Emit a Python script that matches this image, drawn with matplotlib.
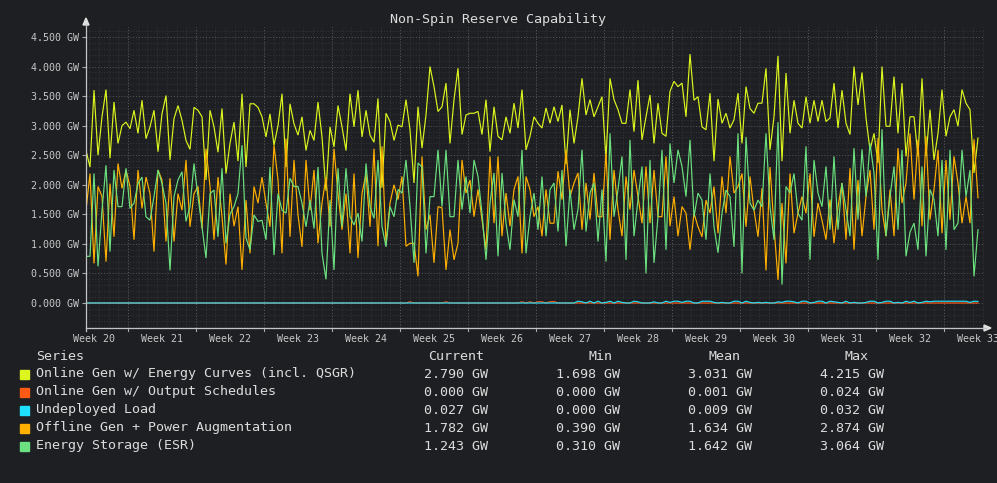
import numpy as np
import matplotlib
matplotlib.use("Agg")
import matplotlib.pyplot as plt
from matplotlib.patches import Rectangle

# ---------------- data (GW), one sample every 1/17 week ----------------
start_week = 19.882
samples_per_week = 17

energy_curves = [
    2.58, 2.30, 3.60, 2.50, 3.15, 3.61, 2.45, 3.40, 2.70, 3.00, 3.06, 2.95, 3.26, 2.87, 3.43, 2.78, 2.98, 3.26,
    2.56, 3.20, 3.51, 2.42, 3.12, 3.34, 3.09, 2.75, 2.60, 3.31, 3.26, 3.15, 2.08, 3.26, 2.98, 2.55, 3.29, 2.19,
    2.70, 3.06, 2.40, 3.54, 2.30, 3.37, 3.37, 3.31, 3.15, 2.81, 3.20, 2.67, 3.00, 3.54, 2.30, 3.37, 3.03, 2.84,
    3.15, 2.58, 2.92, 2.75, 3.40, 2.81, 1.90, 2.98, 2.64, 3.34, 2.98, 2.58, 3.54, 2.98, 3.60, 2.81, 3.26, 2.84, 2.72,
    3.46, 1.95, 3.21, 3.07, 2.75, 3.01, 2.98, 3.44, 2.93, 2.03, 3.32, 2.62, 3.18, 4.00, 3.66, 3.24, 3.32, 3.72,
    2.70, 3.44, 3.97, 2.85, 3.18, 3.21, 3.21, 3.24, 2.85, 3.44, 2.56, 3.32, 2.82, 2.76, 3.15, 2.87, 3.38, 2.96, 3.61, 2.59,
    2.82, 3.15, 3.04, 2.96, 3.30, 3.04, 3.32, 3.07, 3.35, 2.35, 3.27, 2.70, 3.15, 3.80, 3.18, 3.44, 3.15, 3.32,
    3.49, 2.45, 3.80, 3.44, 3.27, 3.04, 3.04, 3.61, 2.90, 3.77, 2.76, 3.15, 3.52, 2.70, 3.38, 2.87, 2.82, 3.58, 3.75, 3.66,
    3.72, 3.15, 4.21, 3.43, 3.49, 2.98, 2.93, 3.55, 2.40, 3.45, 3.04, 3.21, 2.96, 3.10, 3.55, 2.70, 3.66, 3.29,
    3.21, 3.38, 3.38, 3.97, 2.59, 3.15, 4.18, 2.40, 3.89, 2.87, 3.43, 3.04, 2.96, 3.49, 3.04, 3.43, 3.07, 3.43, 3.07,
    3.13, 3.72, 2.96, 3.60, 3.04, 2.85, 4.00, 3.35, 3.90, 3.13, 2.59, 2.87, 2.37, 4.00, 2.99, 2.99, 3.83, 2.87,
    3.72, 2.48, 3.15, 3.15, 2.48, 3.80, 2.48, 3.27, 2.42, 2.87, 3.61, 2.82, 3.15, 3.27, 2.99, 3.61, 3.38, 3.27, 2.20, 2.79,
]

offline_gen = [
    1.57, 2.19, 0.67, 1.97, 1.80, 0.70, 2.02, 1.12, 2.36, 1.94, 2.25, 1.97, 1.07, 2.25, 1.60, 2.13, 1.85, 0.87,
    2.25, 2.08, 1.04, 2.11, 1.04, 1.85, 1.57, 2.42, 1.29, 1.85, 1.97, 1.26, 2.61, 1.97, 1.07, 2.13, 1.46, 0.65,
    1.85, 1.30, 1.63, 0.56, 1.74, 0.84, 1.97, 1.69, 2.13, 1.69, 1.29, 2.67, 2.08, 0.84, 2.78, 1.12, 2.42, 1.49,
    0.95, 2.42, 1.57, 2.25, 1.01, 1.69, 2.13, 1.29, 2.61, 1.85, 1.24, 1.85, 0.84, 2.19, 0.76, 1.85, 2.19, 1.29, 2.61,
    0.96, 2.65, 1.01, 1.69, 2.00, 1.75, 2.14, 0.96, 1.01, 1.01, 0.45, 2.48, 1.24, 1.49, 0.68, 1.63, 1.61, 0.56,
    1.24, 0.73, 1.01, 2.42, 1.86, 2.08, 1.46, 1.92, 1.41, 0.90, 2.48, 1.35, 2.48, 1.13, 1.86, 1.30, 1.92, 2.14, 0.84, 2.14,
    1.92, 1.46, 1.63, 1.13, 1.92, 1.35, 1.35, 2.23, 1.75, 2.59, 1.80, 2.03, 2.20, 1.24, 2.03, 1.41, 2.20, 1.46,
    1.46, 2.54, 1.07, 2.25, 1.58, 1.13, 2.14, 1.58, 2.25, 1.80, 1.35, 2.31, 1.35, 2.25, 1.46, 1.46, 2.48, 1.30, 1.80, 1.13,
    1.63, 1.52, 0.90, 1.52, 1.29, 1.12, 1.74, 1.52, 1.97, 1.18, 2.14, 1.52, 2.48, 1.86, 1.97, 2.19, 1.29, 2.14,
    1.57, 1.12, 1.94, 0.55, 2.30, 1.29, 0.39, 1.69, 0.67, 2.19, 1.18, 1.52, 1.80, 1.52, 2.19, 1.12, 1.69, 1.40, 1.07,
    1.75, 1.01, 1.63, 2.03, 1.07, 2.28, 0.90, 2.08, 1.13, 1.80, 2.25, 1.24, 2.79, 1.58, 1.13, 1.92, 1.13, 2.62,
    1.69, 2.03, 2.87, 1.75, 2.76, 1.30, 2.82, 1.41, 1.92, 2.59, 1.18, 2.42, 1.41, 2.48, 2.03, 1.35, 1.80, 1.35, 2.77, 1.78,
]

energy_storage = [
    0.79, 0.79, 2.19, 0.62, 1.57, 2.33, 0.87, 2.25, 1.63, 1.63, 2.28, 1.60, 1.69, 2.02, 2.13, 1.46, 1.40, 1.80,
    2.25, 2.02, 1.69, 0.55, 1.80, 2.08, 2.22, 1.38, 1.63, 2.36, 1.80, 1.29, 0.76, 1.85, 1.91, 1.12, 2.28, 1.01,
    1.50, 1.63, 1.85, 2.67, 1.10, 0.90, 1.49, 1.38, 1.40, 1.07, 2.30, 0.81, 1.85, 1.57, 1.52, 2.11, 1.97, 1.97,
    1.69, 1.29, 1.74, 1.26, 2.30, 0.84, 0.40, 1.74, 0.56, 2.28, 1.29, 2.28, 1.46, 1.32, 1.52, 1.04, 2.36, 1.63, 1.43,
    2.42, 1.30, 0.95, 1.63, 1.46, 1.92, 1.86, 2.42, 1.63, 0.68, 2.37, 2.30, 0.84, 1.80, 1.80, 2.59, 1.63, 2.59,
    1.46, 1.46, 2.42, 1.58, 2.14, 1.52, 2.42, 2.14, 1.52, 0.73, 1.69, 2.20, 0.79, 2.20, 1.35, 0.90, 1.75, 1.46, 2.59, 0.84,
    1.46, 1.86, 1.24, 2.14, 1.13, 1.92, 2.03, 1.21, 2.25, 0.96, 1.92, 1.24, 1.58, 2.59, 1.21, 1.86, 2.03, 1.04,
    1.92, 0.70, 2.87, 1.46, 1.92, 2.48, 0.73, 2.76, 1.13, 1.75, 2.31, 0.50, 2.42, 0.68, 1.46, 2.59, 0.90, 2.70, 2.03, 2.59,
    2.31, 1.80, 2.76, 1.46, 1.86, 1.74, 1.07, 2.19, 1.29, 0.85, 1.52, 1.91, 1.80, 0.95, 2.87, 0.50, 2.81, 1.69,
    1.57, 1.74, 1.63, 2.87, 1.63, 1.07, 3.06, 0.31, 1.97, 1.86, 2.19, 1.52, 1.40, 2.65, 0.73, 2.42, 1.86, 1.63, 2.31,
    1.24, 2.48, 1.24, 2.03, 1.58, 1.13, 2.62, 1.41, 2.60, 1.80, 2.70, 2.20, 0.73, 2.94, 1.13, 1.80, 2.31, 1.24,
    2.59, 0.79, 1.20, 1.35, 0.90, 2.31, 0.79, 1.92, 1.75, 1.13, 2.42, 0.90, 2.59, 1.24, 1.35, 2.59, 1.80, 2.25, 0.45, 1.24,
]

output_schedules = ([0.0] * 81 + [0.02] + [0.0] * 8 + [0.02] + [0.0] * 18 + [0.02, 0.0, 0.02, 0.0, 0.02, 0.02, 0.0, 0.02, 0.024]
                    + [0.0] * 106)

undeployed_load = [0.0] * 122 + [
    0.0, 0.03, 0.02, 0.0, 0.03, 0.0, 0.03, 0.0, 0.01, 0.03, 0.0, 0.03, 0.01, 0.0, 0.0, 0.03, 0.02, 0.0,
    0.0, 0.0, 0.02, 0.0, 0.0, 0.03, 0.01, 0.03, 0.03, 0.01, 0.03, 0.03, 0.0, 0.0, 0.03, 0.03, 0.03, 0.01,
    0.0, 0.01, 0.0, 0.0, 0.03, 0.03, 0.0, 0.03, 0.01, 0.0, 0.01, 0.0, 0.01, 0.0, 0.0, 0.02, 0.01, 0.03,
    0.03, 0.02, 0.0, 0.03, 0.03, 0.0, 0.01, 0.03, 0.03, 0.0, 0.03, 0.02, 0.01, 0.0, 0.03, 0.0, 0.01, 0.0,
    0.0, 0.01, 0.03, 0.03, 0.0, 0.01, 0.03, 0.03, 0.0, 0.01, 0.0, 0.03, 0.01, 0.03, 0.0, 0.01, 0.03, 0.02,
    0.03, 0.03, 0.03, 0.03, 0.03, 0.03, 0.03, 0.03, 0.03, 0.01, 0.03, 0.027,
]

series_names = ["Online Gen w/ Energy Curves (incl. QSGR)", "Online Gen w/ Output Schedules",
                "Undeployed Load", "Offline Gen + Power Augmentation", "Energy Storage (ESR)"]
series_colors = ["#DCF51E", "#FF5A14", "#1EE1FF", "#FFB000", "#6BE27F"]
stat_current = ["2.790 GW", "0.000 GW", "0.027 GW", "1.782 GW", "1.243 GW"]
stat_min = ["1.698 GW", "0.000 GW", "0.000 GW", "0.390 GW", "0.310 GW"]
stat_mean = ["3.031 GW", "0.001 GW", "0.009 GW", "1.634 GW", "1.642 GW"]
stat_max = ["4.215 GW", "0.024 GW", "0.032 GW", "2.874 GW", "3.064 GW"]
week_labels = [f"Week {w}" for w in range(20, 34)]
y_ticks = [0.0, 0.5, 1.0, 1.5, 2.0, 2.5, 3.0, 3.5, 4.0, 4.5]

all_series = [energy_curves, output_schedules, undeployed_load, offline_gen, energy_storage]
n = len(energy_curves)
for s in all_series:
    assert len(s) == n, len(s)

# ---------------- figure ----------------
W, H = 997, 483
BG = "#1e1f22"
TXT = "#dcdcdc"
MONO = "DejaVu Sans Mono"

fig = plt.figure(figsize=(W / 100, H / 100), dpi=100, facecolor=BG)

def fx(px):
    return px / W

def fy(py):
    return 1 - py / H

ax_l, ax_r, ax_t, ax_b = 86, 984, 27, 328
ax = fig.add_axes([fx(ax_l), fy(ax_b), (ax_r - ax_l) / W, (ax_b - ax_t) / H])
ax.set_facecolor(BG)
for sp in ax.spines.values():
    sp.set_visible(False)

t = start_week + np.arange(n) / samples_per_week
x_end = start_week + (ax_r - ax_l) / 68.0
ax.set_xlim(start_week, x_end)
ax.set_ylim(-0.423, 4.669)

# grid
minor_col = "#34363a"
major_col = "#56585c"
dot = (0, (1, 2))
for v in np.arange(-0.4, 4.65, 0.1):
    if abs(round(v * 10) % 5) != 0:
        ax.axhline(v, color=minor_col, lw=0.7, ls=dot, zorder=0)
for v in y_ticks:
    ax.axhline(v, color=major_col, lw=0.7, ls=dot, zorder=0)
day = 1 / 7
g = 20.5 - 5 * day
while g < x_end:
    ax.axvline(g, color=minor_col, lw=0.7, ls=dot, zorder=0)
    g += day
for j in range(13):
    ax.axvline(20.5 + j, color=major_col, lw=0.7, ls=dot, zorder=0)

# series
for s, c in zip(all_series, series_colors):
    ax.plot(t, s, color=c, lw=0.85, zorder=3, solid_joinstyle="miter")

# ticks
ax.set_yticks(y_ticks)
ax.set_yticklabels([f"{v:.3f} GW" for v in y_ticks], fontfamily=MONO, fontsize=7.2, color="#c8c8c8")
ax.tick_params(axis="y", length=3, width=0.8, color="#a8a8a8", pad=2)
ax.set_xticks(np.arange(20, 34))
ax.set_xticklabels(week_labels, fontfamily=MONO, fontsize=7.2, color="#c8c8c8")
ax.tick_params(axis="x", length=0, pad=4)
for j in range(13):
    ax.plot([20.5 + j, 20.5 + j], [-0.423, -0.48], color="#a8a8a8", lw=0.8, clip_on=False, zorder=4)

# axes with arrows
axis_col = "#c4c4c4"
fig.add_artist(plt.Line2D([fx(86), fx(986)], [fy(328), fy(328)], color=axis_col, lw=0.9))
fig.add_artist(plt.Line2D([fx(86), fx(86)], [fy(331), fy(24)], color=axis_col, lw=0.9))
fig.add_artist(plt.Polygon([[fx(984), fy(325)], [fx(991), fy(328)], [fx(984), fy(331)]],
                           closed=True, color="#e0e0e0", transform=fig.transFigure))
fig.add_artist(plt.Polygon([[fx(83), fy(25)], [fx(86), fy(18)], [fx(89), fy(25)]],
                           closed=True, color="#e0e0e0", transform=fig.transFigure))

# title
fig.text(fx(498), fy(19), "Non-Spin Reserve Capability", ha="center", va="center",
         fontfamily=MONO, fontsize=9.6, color=TXT)

# legend table
LFS = 9.6
fig.text(fx(36), fy(356), "Series", ha="left", va="center", fontfamily=MONO, fontsize=LFS, color=TXT)
headers = [("Current", 456), ("Min", 600), ("Mean", 724), ("Max", 856)]
for h, cx in headers:
    fig.text(fx(cx), fy(356), h, ha="center", va="center", fontfamily=MONO, fontsize=LFS, color=TXT)
cols = [(stat_current, 488), (stat_min, 620), (stat_mean, 752), (stat_max, 884)]
for i, (name, col) in enumerate(zip(series_names, series_colors)):
    ry = 374 + 18 * i
    fig.add_artist(Rectangle((fx(20), fy(ry + 4.5)), 9 / W, 9 / H, color=col, transform=fig.transFigure))
    fig.text(fx(36), fy(ry), name, ha="left", va="center", fontfamily=MONO, fontsize=LFS, color=TXT)
    for vals, rx in cols:
        fig.text(fx(rx), fy(ry), vals[i], ha="right", va="center", fontfamily=MONO, fontsize=LFS, color=TXT)

fig.savefig("out.png", dpi=100, facecolor=BG)
